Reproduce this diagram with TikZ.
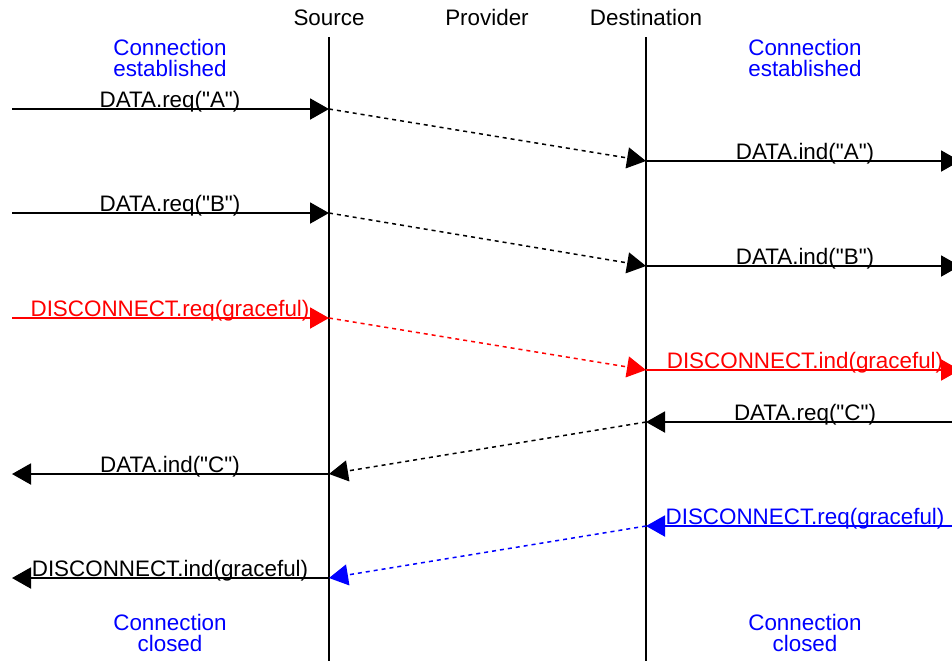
\documentclass[tikz,border=0pt]{standalone}
\usepackage{fontspec}
\setmainfont{Liberation Sans}
\usetikzlibrary{arrows.meta}
\definecolor{discred}{HTML}{ff0000}
\definecolor{discblue}{HTML}{0000ff}
\tikzset{
  lifeline/.style = {line width=1pt},
  msg/.style      = {line width=1pt, -{Triangle[length=9.5pt, width=10.5pt]}},
  wire/.style     = {line width=0.75pt, dash pattern=on 2pt off 2pt,
                     -{Triangle[length=9.5pt, width=10.5pt]}},
  lbl/.style      = {font=\fontsize{11.2}{12}\selectfont, anchor=base, inner sep=0pt},
  state/.style    = {font=\fontsize{11.2}{10.4}\selectfont, text=discblue,
                     align=center, inner sep=0pt},
}
\newcommand{\qq}[1]{\textquotedbl#1\textquotedbl}
\begin{document}
\begin{tikzpicture}[x=0.5pt, y=-0.5pt]
    \useasboundingbox (0,0) rectangle (952,661);

    % lifelines
    \node[lbl] (src)  at (329,25) {Source};
    \node[lbl] (prov) at (487,25) {Provider};
    \node[lbl] (dst)  at (646,25) {Destination};
    \coordinate (srctop) at (329,37);
    \coordinate (srcbot) at (329,661);
    \coordinate (dsttop) at (646,37);
    \coordinate (dstbot) at (646,661);
    \draw[lifeline] (srctop) -- (srcbot);
    \draw[lifeline] (dsttop) -- (dstbot);

    \node[state] (estL) at (170,58) {Connection\\established};
    \node[state] (estR) at (805,58) {Connection\\established};
    \node[state] (clsL) at (170,633) {Connection\\closed};
    \node[state] (clsR) at (805,633) {Connection\\closed};

    % data A
    \coordinate (inA)  at (12,109);
    \coordinate (srcA) at (329,109);
    \coordinate (dstA) at (646,161);
    \coordinate (outA) at (960,161);
    \draw[msg]  (inA) -- (srcA);
    \draw[wire] (srcA) -- (dstA);
    \draw[msg]  (dstA) -- (outA);
    \node[lbl] (reqA) at (170,107) {DATA.req(\qq{A})};
    \node[lbl] (indA) at (805,159) {DATA.ind(\qq{A})};

    % data B
    \coordinate (inB)  at (12,213);
    \coordinate (srcB) at (329,213);
    \coordinate (dstB) at (646,266);
    \coordinate (outB) at (960,266);
    \draw[msg]  (inB) -- (srcB);
    \draw[wire] (srcB) -- (dstB);
    \draw[msg]  (dstB) -- (outB);
    \node[lbl] (reqB) at (170,211) {DATA.req(\qq{B})};
    \node[lbl] (indB) at (805,264) {DATA.ind(\qq{B})};

    % graceful disconnect from source
    \coordinate (inD)  at (12,318);
    \coordinate (srcD) at (329,318);
    \coordinate (dstD) at (646,370);
    \coordinate (outD) at (960,370);
    \draw[msg, discred]  (inD) -- (srcD);
    \draw[wire, discred] (srcD) -- (dstD);
    \draw[msg, discred]  (dstD) -- (outD);
    \node[lbl, text=discred] (reqD) at (170,316) {DISCONNECT.req(graceful)};
    \node[lbl, text=discred] (indD) at (805,368) {DISCONNECT.ind(graceful)};

    % data C, other way
    \coordinate (inC)  at (952,422);
    \coordinate (dstC) at (646,422);
    \coordinate (srcC) at (329,474);
    \coordinate (outC) at (12,474);
    \draw[msg]  (inC) -- (dstC);
    \draw[wire] (dstC) -- (srcC);
    \draw[msg]  (srcC) -- (outC);
    \node[lbl] (reqC) at (805,420) {DATA.req(\qq{C})};
    \node[lbl] (indC) at (170,472) {DATA.ind(\qq{C})};

    % graceful disconnect from destination
    \coordinate (inE)  at (952,526);
    \coordinate (dstE) at (646,526);
    \coordinate (srcE) at (329,578);
    \coordinate (outE) at (12,578);
    \draw[msg, discblue]  (inE) -- (dstE);
    \draw[wire, discblue] (dstE) -- (srcE);
    \draw[msg]            (srcE) -- (outE);
    \node[lbl, text=discblue] (reqE) at (805,524) {DISCONNECT.req(graceful)};
    \node[lbl]                (indE) at (170,576) {DISCONNECT.ind(graceful)};
\end{tikzpicture}
\end{document}
